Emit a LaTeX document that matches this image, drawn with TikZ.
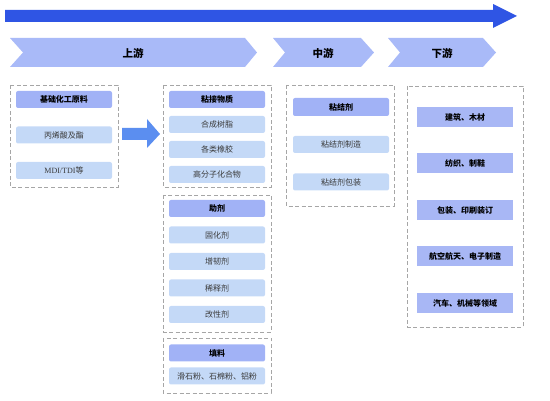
\documentclass[tikz,border=0pt]{standalone}
\usepackage{fontspec}
\setmainfont{Noto Sans CJK SC}
\newfontfamily\latinserif{Liberation Serif}
\usetikzlibrary{positioning}
\definecolor{topblue}{HTML}{2F55E4}
\definecolor{chevblue}{HTML}{A9BAF8}
\definecolor{hdrblue}{HTML}{A1B2F6}
\definecolor{itmblue}{HTML}{C4D9F7}
\definecolor{dstblue}{HTML}{A8B7F5}
\definecolor{arrblue}{HTML}{5B8EF0}
\definecolor{boxgray}{HTML}{A6A6A6}
\definecolor{txtgray}{HTML}{3A3A3A}
\begin{document}
\begin{tikzpicture}[x=1pt,y=-1pt]
        \tikzstyle{header}=[rectangle, rounded corners=2pt, fill=hdrblue, minimum width=96pt, minimum height=17pt, inner sep=0pt, font=\fontsize{8}{9}\selectfont\bfseries]
        \tikzstyle{item}=[rectangle, rounded corners=2pt, fill=itmblue, text=txtgray, minimum width=96pt, minimum height=17pt, inner sep=0pt, font=\fontsize{8}{9}\selectfont]
        \tikzstyle{sector}=[rectangle, fill=dstblue, minimum width=96pt, minimum height=20pt, inner sep=0pt, font=\fontsize{8}{9}\selectfont\bfseries]
        \tikzstyle{group}=[draw=boxgray, line width=0.9pt, dash pattern=on 4pt off 2.5pt]
        \tikzstyle{stage}=[font=\fontsize{10.5}{12}\selectfont\bfseries]
        \useasboundingbox (0,0) rectangle (550,401);
        % timeline
        \fill [topblue] (5,10) -- (493,10) -- (493,4) -- (517,16) -- (493,28) -- (493,22) -- (5,22) -- cycle;
        \fill [chevblue] (10,38) -- (245,38) -- (257,52.5) -- (245,67) -- (10,67) -- (23,52.5) -- cycle;
        \fill [chevblue] (273,38) -- (361,38) -- (374,52.5) -- (361,67) -- (273,67) -- (285,52.5) -- cycle;
        \fill [chevblue] (388,38) -- (483,38) -- (496,52.5) -- (483,67) -- (388,67) -- (400,52.5) -- cycle;
        \node [stage] (up) at (133,53) {上游};
        \node [stage] (mid) at (323,53) {中游};
        \node [stage] (down) at (442,53) {下游};
        % upstream raw materials
        \begin{scope}[node distance=35.5pt]
          \draw [group] (10,85) rectangle (118,187);
          \node [header] (raw) at (64,99.5) {基础化工原料};
          \node [item] (acryl) [below of=raw] {丙烯酸及酯};
          \node [item] (mdi) [below of=acryl] {{\latinserif MDI/TDI}等};
        \end{scope}
        \fill [arrblue] (122,128) -- (147,128) -- (147,119) -- (160,134) -- (147,148) -- (147,140) -- (122,140) -- cycle;
        \begin{scope}[node distance=25pt]
          \draw [group] (163,85) rectangle (271,187);
          \node [header] (bond) at (217,99.5) {粘接物质};
          \node [item] (resin) [below of=bond] {合成树脂};
          \node [item] (rubber) [below of=resin] {各类橡胶};
          \node [item] (poly) [below of=rubber] {高分子化合物};
        \end{scope}
        \begin{scope}[node distance=26.5pt]
          \draw [group] (163,195) rectangle (271,332);
          \node [header] (aux) at (217,208.5) {助剂};
          \node [item] (cure) [below of=aux] {固化剂};
          \node [item] (tough) [below of=cure] {增韧剂};
          \node [item] (dilute) [below of=tough] {稀释剂};
          \node [item] (modify) [below of=dilute] {改性剂};
        \end{scope}
        \begin{scope}[node distance=23pt]
          \draw [group] (163,338) rectangle (271,393);
          \node [header] (filler) at (217,353) {填料};
          \node [item] (powder) [below of=filler] {滑石粉、石棉粉、铝粉};
        \end{scope}
        % midstream
        \begin{scope}[node distance=37.5pt]
          \draw [group] (286,85) rectangle (394,206);
          \node [header, minimum height=18pt] (glue) at (341,107) {粘结剂};
          \node [item] (make) [below of=glue] {粘结剂制造};
          \node [item] (pack) [below of=make] {粘结剂包装};
        \end{scope}
        % downstream
        \begin{scope}[node distance=46.5pt]
          \draw [group] (407,86) rectangle (523,327);
          \node [sector] (build) at (465,117) {建筑、木材};
          \node [sector] (textile) [below of=build] {纺织、制鞋};
          \node [sector] (print) [below of=textile] {包装、印刷装订};
          \node [sector] (aero) [below of=print] {航空航天、电子制造};
          \node [sector] (auto) [below of=aero] {汽车、机械等领域};
        \end{scope}
      \end{tikzpicture}
\end{document}
